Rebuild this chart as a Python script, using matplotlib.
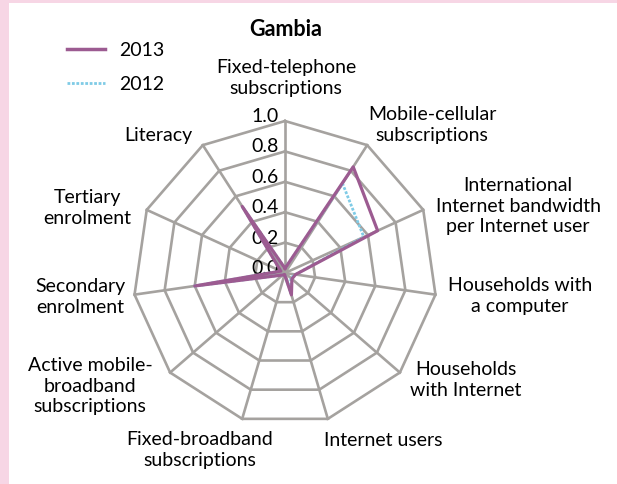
import numpy as np
import matplotlib
matplotlib.use("Agg")
import matplotlib.pyplot as plt
from matplotlib.patches import Rectangle
from matplotlib.lines import Line2D

plt.rcParams['font.family'] = ['Lato', 'DejaVu Sans']

title = "Gambia"
categories = [
    "Fixed-telephone\nsubscriptions",
    "Mobile-cellular\nsubscriptions",
    "International\nInternet bandwidth\nper Internet user",
    "Households with\na computer",
    "Households\nwith Internet",
    "Internet users",
    "Fixed-broadband\nsubscriptions",
    "Active mobile-\nbroadband\nsubscriptions",
    "Secondary\nenrolment",
    "Tertiary\nenrolment",
    "Literacy",
]
values_2013 = [0.03, 0.83, 0.67, 0.07, 0.06, 0.15, 0.01, 0.02, 0.60, 0.03, 0.52]
values_2012 = [0.03, 0.70, 0.57, 0.07, 0.05, 0.14, 0.01, 0.02, 0.60, 0.03, 0.52]
ring_values = [0.2, 0.4, 0.6, 0.8, 1.0]
tick_labels = ["0.0", "0.2", "0.4", "0.6", "0.8", "1.0"]
series_names = ["2013", "2012"]

W, H = 617, 484
cx, cy, R = 285, 273, 152
fs = 14
fig = plt.figure(figsize=(W / 100, H / 100), dpi=100)
fig.patch.set_facecolor("#f7d6e5")

ax = fig.add_axes([0, 0, 1, 1])
ax.set_xlim(-cx / R, (W - cx) / R)
ax.set_ylim(-(H - cy) / R, cy / R)
ax.set_aspect("equal")
ax.axis("off")
ax.add_patch(Rectangle((9 / W, 0), 1 - 9 / W, (H - 3) / H, transform=fig.transFigure,
                       facecolor="white", edgecolor="none", zorder=0, clip_on=False))

n = len(categories)
ang = np.arange(n) * 2 * np.pi / n
sx, sy = np.sin(ang), np.cos(ang)
grid_c = "#a5a29f"

for rv in ring_values:
    ax.plot(np.append(sx, sx[0]) * rv, np.append(sy, sy[0]) * rv, color=grid_c, lw=1.9, zorder=1)
for i in range(n):
    ax.plot([0, sx[i]], [0, sy[i]], color=grid_c, lw=1.9, zorder=1)

v12 = np.array(values_2012)
v13 = np.array(values_2013)
ax.plot(np.append(sx * v12, sx[0] * v12[0]), np.append(sy * v12, sy[0] * v12[0]),
        color="#7fcbe6", lw=2.0, ls=(0, (1, 0.6)), zorder=3)
ax.plot(np.append(sx * v13, sx[0] * v13[0]), np.append(sy * v13, sy[0] * v13[0]),
        color="#9c5b91", lw=2.3, zorder=4)

# tick labels
for k, t in enumerate(tick_labels):
    r = k * 0.2
    ax.text(-0.04, r + 0.03, t, ha="right", va="center", fontsize=fs, color="black", zorder=2)

# category labels (pixel centers)
label_pos = [(286, 78), (432, 125), (518, 206), (520, 296), (466, 380), (383, 441),
             (200, 450), (90, 386), (80, 297), (87, 208), (158, 136)]
for lab, (px, py) in zip(categories, label_pos):
    ax.text((px - cx) / R, (cy - py) / R, lab, ha="center", va="center",
            fontsize=fs, linespacing=1.25, zorder=2)

ax.text((286 - cx) / R, (cy - 30) / R, title, ha="center", va="center",
        fontsize=15.5, fontweight="bold")

handles = [Line2D([], [], color="#9c5b91", lw=2.5),
           Line2D([], [], color="#7fcbe6", lw=2.0, ls=(0, (1, 0.6)))]
fig.legend(handles, series_names, loc="upper left", bbox_to_anchor=(67 / W, 1 - 42 / H),
           frameon=False, fontsize=fs, handlelength=1.95, handletextpad=0.75,
           labelspacing=0.85, borderpad=0, borderaxespad=0)

fig.savefig("out.png", dpi=100)
